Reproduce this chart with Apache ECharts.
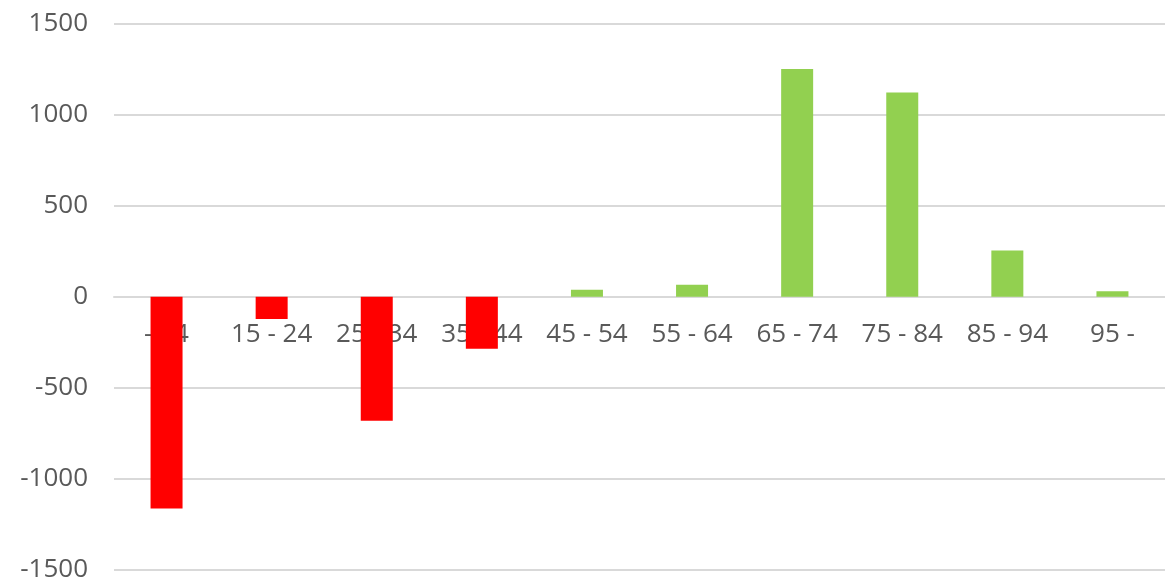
<!DOCTYPE html>
<html>
<head>
<meta charset="utf-8">
<script src="https://cdn.jsdelivr.net/npm/echarts@6/dist/echarts.min.js"></script>
<style>
html,body{margin:0;padding:0;background:#fff;}
#chart{width:1165px;height:585px;}
</style>
</head>
<body>
<div id="chart"></div>
<script>
const categories = ['- 14','15 - 24','25 - 34','35 - 44','45 - 54','55 - 64','65 - 74','75 - 84','85 - 94','95 -'];
const values = [-1163, -122, -681, -285, 38, 66, 1250, 1121, 254, 30];
const yTicks = { min: -1500, max: 1500, interval: 500 };
const negColor = '#ff0000';
const posColor = '#92d050';

const gridTop = 23.5, gridBottom = 15, H = 585;
const plotH = H - gridTop - gridBottom;
const zeroOffset = -plotH * (0 - yTicks.min) / (yTicks.max - yTicks.min);

const chart = echarts.init(document.getElementById('chart'));
chart.setOption({
  animation: false,
  grid: { left: 114, right: 0, top: gridTop, bottom: gridBottom, containLabel: false, outerBoundsMode: 'none' },
  xAxis: {
    type: 'category',
    data: categories,
    position: 'bottom',
    offset: zeroOffset,
    axisLine: { show: true, onZero: false, lineStyle: { color: '#d9d9d9', width: 2 } },
    axisTick: { show: false },
    axisLabel: { color: '#595959', fontSize: 26, fontFamily: 'Open Sans', margin: 25, interval: 0 }
  },
  yAxis: {
    type: 'value',
    min: yTicks.min, max: yTicks.max, interval: yTicks.interval,
    axisLine: { show: false },
    axisTick: { show: false },
    splitLine: { lineStyle: { color: '#d9d9d9', width: 2 } },
    axisLabel: { color: '#595959', fontSize: 26, fontFamily: 'Open Sans', margin: 26, formatter: v => String(v) }
  },
  series: [{
    type: 'bar',
    barWidth: 32,
    data: values.map(v => ({ value: v, itemStyle: { color: v < 0 ? negColor : posColor } }))
  }]
});
</script>
</body>
</html>
